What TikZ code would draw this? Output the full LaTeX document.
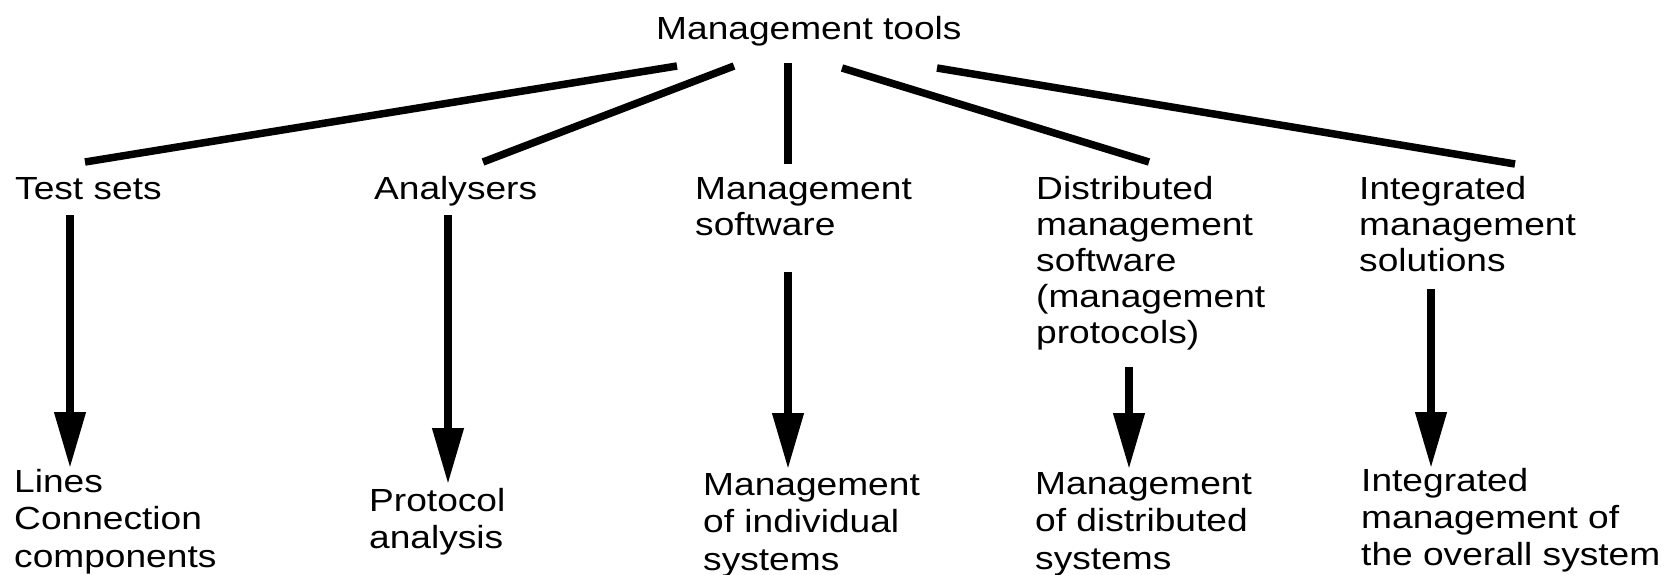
\documentclass[tikz,border=0pt]{standalone}
\usepackage{fontspec}
\setmainfont{Liberation Sans}[FakeStretch=1.16]
\usetikzlibrary{arrows.meta}
\newcommand\mlines[2][36pt]{\vtop{\baselineskip=#1\lineskiplimit=-100pt\halign{##\hfil\cr #2\crcr}}}
\begin{document}
\begin{tikzpicture}[x=1pt,y=-1pt,
  lbl/.style={anchor=base west,inner sep=0pt,font=\fontsize{32}{36}\selectfont},
  conn/.style={line width=7.5pt},
  arr/.style={line width=7.5pt,-{Triangle[length=56pt,width=30pt]}}]
\clip (0,0) rectangle (1664,574);
\fill[white] (0,0) rectangle (1664,574);
% top
\node[lbl] (top) at (656,39) {Management tools};
% level 1
\node[lbl] (ts) at (15,199) {Test sets};
\node[lbl] (an) at (374,199) {Analysers};
\node[lbl] (ms) at (695,199) {\mlines{Management\cr software}};
\node[lbl] (ds) at (1036,199) {\mlines{Distributed\cr management\cr software\cr (management\cr protocols)}};
\node[lbl] (is) at (1359,199) {\mlines{Integrated\cr management\cr solutions}};
% level 2
\node[lbl] (lc) at (14,492) {\mlines[37.5pt]{Lines\cr Connection\cr components}};
\node[lbl] (pa) at (369,511) {\mlines[37.5pt]{Protocol\cr analysis}};
\node[lbl] (mi) at (703,495) {\mlines[37.5pt]{Management\cr of individual\cr systems}};
\node[lbl] (md) at (1035,494) {\mlines[37.5pt]{Management\cr of distributed\cr systems}};
\node[lbl] (im) at (1361,491) {\mlines[37pt]{Integrated\cr management of\cr the overall system}};
% connector end points
\coordinate (t1) at (677,66);  \coordinate (b1) at (85,162);
\coordinate (t2) at (734,66);  \coordinate (b2) at (483,162);
\coordinate (t3) at (788,63);  \coordinate (b3) at (788,164);
\coordinate (t4) at (842,68);  \coordinate (b4) at (1149,162);
\coordinate (t5) at (937,68);  \coordinate (b5) at (1515,164);
\draw[conn] (t1) -- (b1);
\draw[conn] (t2) -- (b2);
\draw[conn] (t3) -- (b3);
\draw[conn] (t4) -- (b4);
\draw[conn] (t5) -- (b5);
% arrows
\coordinate (s1) at (70,215);   \coordinate (e1) at (70,468);
\coordinate (s2) at (448,215);  \coordinate (e2) at (448,484);
\coordinate (s3) at (788,272);  \coordinate (e3) at (788,469);
\coordinate (s4) at (1129,367); \coordinate (e4) at (1129,469);
\coordinate (s5) at (1431,289); \coordinate (e5) at (1431,468);
\draw[arr] (s1) -- (e1);
\draw[arr] (s2) -- (e2);
\draw[arr] (s3) -- (e3);
\draw[arr] (s4) -- (e4);
\draw[arr] (s5) -- (e5);
\end{tikzpicture}
\end{document}
